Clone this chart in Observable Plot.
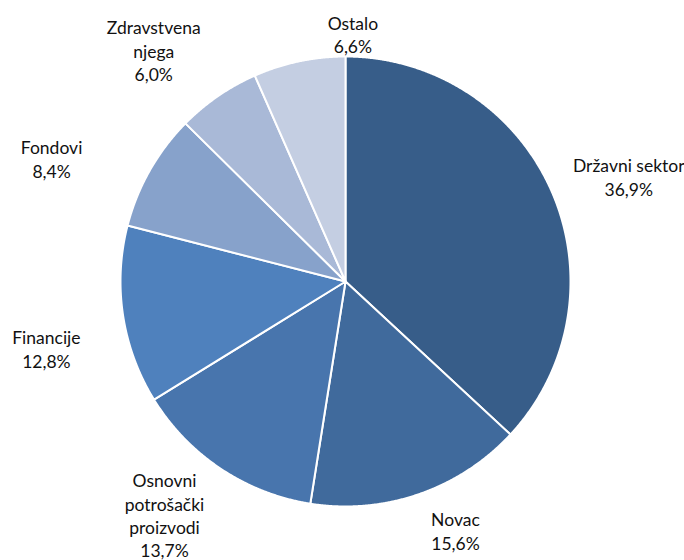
<!DOCTYPE html>
<html><head><meta charset="utf-8">
<script src="https://cdn.jsdelivr.net/npm/d3@7"></script>
<script src="https://cdn.jsdelivr.net/npm/@observablehq/plot@0.6"></script>
<style>body{margin:0;background:#fff}#chart{width:684px;height:560px}</style>
</head><body><div id="chart"></div>
<script>
// ---- data ----
const categories = ["Državni sektor", "Novac", "Osnovni potrošački proizvodi", "Financije", "Fondovi", "Zdravstvena njega", "Ostalo"];
const shares = [36.9, 15.6, 13.7, 12.8, 8.4, 6.0, 6.6];
const labelNames = ["Državni sektor", "Novac", "Osnovni\npotrošački\nproizvodi", "Financije", "Fondovi", "Zdravstvena\nnjega", "Ostalo"];

// ---- style / layout ----
const sliceColors = ["#375d89", "#406a9c", "#4875ad", "#4f81bd", "#87a2cb", "#a9b9d7", "#c4cee2"];
// small per-label nudges (px) applied after placing each label just outside the rim
const labelNudge = [[6, 16], [21, -8], [-13, -19], [-23, 25], [-50, 15], [-23, 14], [63, 17]];
const W = 684, H = 560, R = 225, CX = 345, CY = 281;
const FONT = 17.5, LH = 1.34, FAMILY = "Lato", GAP = 17;

const data = categories.map((c, i) => ({category: c, share: shares[i], name: labelNames[i]}));
const arcs = d3.pie().sort(null).value(d => d.share)(data);
const fmt = v => d3.format(".1f")(v).replace(".", ",") + "%";

// slice outlines in unit-radius coordinates (y up)
const polys = [];
arcs.forEach(a => {
  const c = a.data.category;
  const n = Math.max(2, Math.ceil((a.endAngle - a.startAngle) / 0.004));
  polys.push({category: c, x: 0, y: 0});
  for (let k = 0; k <= n; k++) {
    const t = a.startAngle + (a.endAngle - a.startAngle) * k / n;
    polys.push({category: c, x: Math.sin(t), y: Math.cos(t)});
  }
  polys.push({category: c, x: 0, y: 0});
});

// labels placed just outside the rim at the mid-angle
const ctx = document.createElement("canvas").getContext("2d");
ctx.font = `${FONT}px ${FAMILY}`;
const labels = arcs.map((a, i) => {
  const text = a.data.name + "\n" + fmt(a.data.share);
  const lines = text.split("\n");
  const w = Math.max(...lines.map(l => ctx.measureText(l).width));
  const h = lines.length * FONT * LH;
  const m = (a.startAngle + a.endAngle) / 2;
  const s = Math.sin(m), c = Math.cos(m);
  const d = R + GAP + Math.abs(s) * w / 2 + Math.abs(c) * h / 2;
  const px = CX + d * s + labelNudge[i][0], py = CY - d * c + labelNudge[i][1];
  return {text, x: (px - CX) / R, y: (CY - py) / R};
});

const chart = Plot.plot({
  width: W, height: H,
  margin: 0,
  x: {domain: [-CX / R, (W - CX) / R], axis: null},
  y: {domain: [-(H - CY) / R, CY / R], axis: null},
  color: {type: "ordinal", domain: categories, range: sliceColors},
  style: {fontFamily: FAMILY, background: "#fff"},
  marks: [
    Plot.line(polys, {x: "x", y: "y", z: "category", fill: "category", stroke: "white", strokeWidth: 2, strokeLinejoin: "round", curve: "linear"}),
    Plot.text(labels, {x: "x", y: "y", text: "text", fontSize: FONT, lineHeight: LH, textAnchor: "middle", lineAnchor: "middle", fill: "#111"})
  ]
});
document.getElementById("chart").appendChild(chart);
</script>
</body></html>
